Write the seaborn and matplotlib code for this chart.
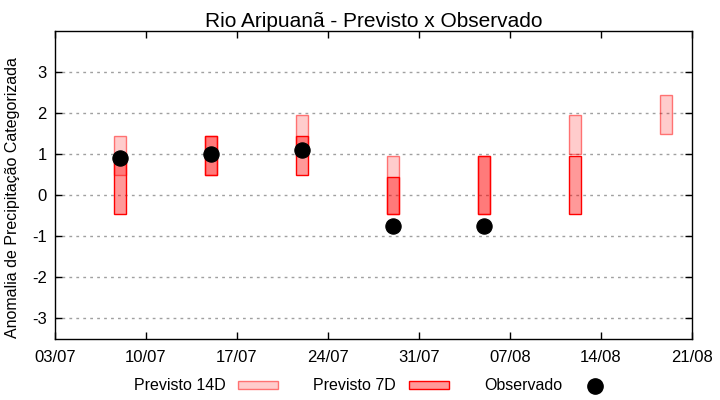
import numpy as np
import pandas as pd
import matplotlib
matplotlib.use("Agg")
import matplotlib.pyplot as plt
import matplotlib.dates as mdates
from matplotlib.patches import Patch
from matplotlib.lines import Line2D
import seaborn as sns

# dados
datas = pd.to_datetime(["2023-07-08", "2023-07-15", "2023-07-22", "2023-07-29",
                        "2023-08-05", "2023-08-12", "2023-08-19"])
p14_min = [0.5, 0.5, 0.95, -0.45, -0.45, 1.0, 1.5]
p14_max = [1.45, 1.45, 1.95, 0.95, 0.95, 1.95, 2.45]
p7_min = [-0.45, 0.5, 0.5, -0.45, -0.45, -0.45, np.nan]
p7_max = [0.95, 1.45, 1.45, 0.45, 0.95, 0.95, np.nan]
observado = [0.9, 1.0, 1.1, -0.75, -0.75, np.nan, np.nan]

ticks_x = pd.date_range("2023-07-03", "2023-08-21", freq="7D")

sns.set_theme(style="ticks")
plt.rcParams['font.family'] = ['Liberation Sans', 'DejaVu Sans']
plt.rcParams['axes.unicode_minus'] = False
plt.rcParams['text.color'] = 'black'
plt.rcParams['axes.labelcolor'] = 'black'

df = pd.DataFrame({"data": datas, "obs": observado})

fig = plt.figure(figsize=(7.2, 4.0), dpi=100)
ax = fig.add_axes([0.0764, 0.1525, 0.8847, 0.77])

cor14_face = (1, 0, 0, 0.2)
cor14_borda = (1, 0, 0, 0.5)
cor7_face = (1, 0, 0, 0.4)
cor7_borda = (1, 0, 0, 1)

alt14 = np.array(p14_max) - np.array(p14_min)
ax.bar(datas, alt14, bottom=p14_min, width=0.9,
       color=cor14_face, edgecolor=cor14_borda, linewidth=1, zorder=2)
alt7 = np.array(p7_max) - np.array(p7_min)
ax.bar(datas, alt7, bottom=p7_min, width=0.9,
       color=cor7_face, edgecolor=cor7_borda, linewidth=1, zorder=3)

sns.scatterplot(data=df, x="data", y="obs", ax=ax, color="black", s=120,
                edgecolor="black", zorder=4, legend=False)

ax.set_xlim(ticks_x[0], ticks_x[-1])
ax.set_ylim(-3.5, 4.0)
ax.set_yticks([-3, -2, -1, 0, 1, 2, 3])
ax.set_xticks(ticks_x)
ax.xaxis.set_major_formatter(mdates.DateFormatter("%d/%m"))

ax.yaxis.grid(True, linestyle=(0, (2, 3)), color="#a0a0a0", linewidth=1)
ax.set_axisbelow(True)
for s in ax.spines.values():
    s.set_color("black")
    s.set_linewidth(1)
ax.tick_params(direction="in", top=True, right=True, length=5, width=1,
               labelsize=12, colors="black", pad=6)
ax.tick_params(axis="x", pad=8)

ax.set_xlabel("")
ax.set_ylabel("Anomalia de Precipitação Categorizada", fontsize=11.5)
ax.yaxis.set_label_coords(-0.055, 0.46)
ax.set_title("Rio Aripuanã - Previsto x Observado", fontsize=15, pad=3)

handles = [
    Patch(facecolor=cor14_face, edgecolor=cor14_borda, linewidth=1, label="Previsto 14D"),
    Patch(facecolor=cor7_face, edgecolor=cor7_borda, linewidth=1, label="Previsto 7D"),
    Line2D([], [], marker="o", linestyle="", color="black", markersize=11, label="Observado"),
]
fig.legend(handles=handles, loc="center", bbox_to_anchor=(0.52, 0.035), ncol=3,
           markerfirst=False, frameon=False, fontsize=11.5, handlelength=2.5,
           handleheight=0.4, handletextpad=0.8, columnspacing=2.2)

fig.savefig("out.png", dpi=100)
plt.close()
